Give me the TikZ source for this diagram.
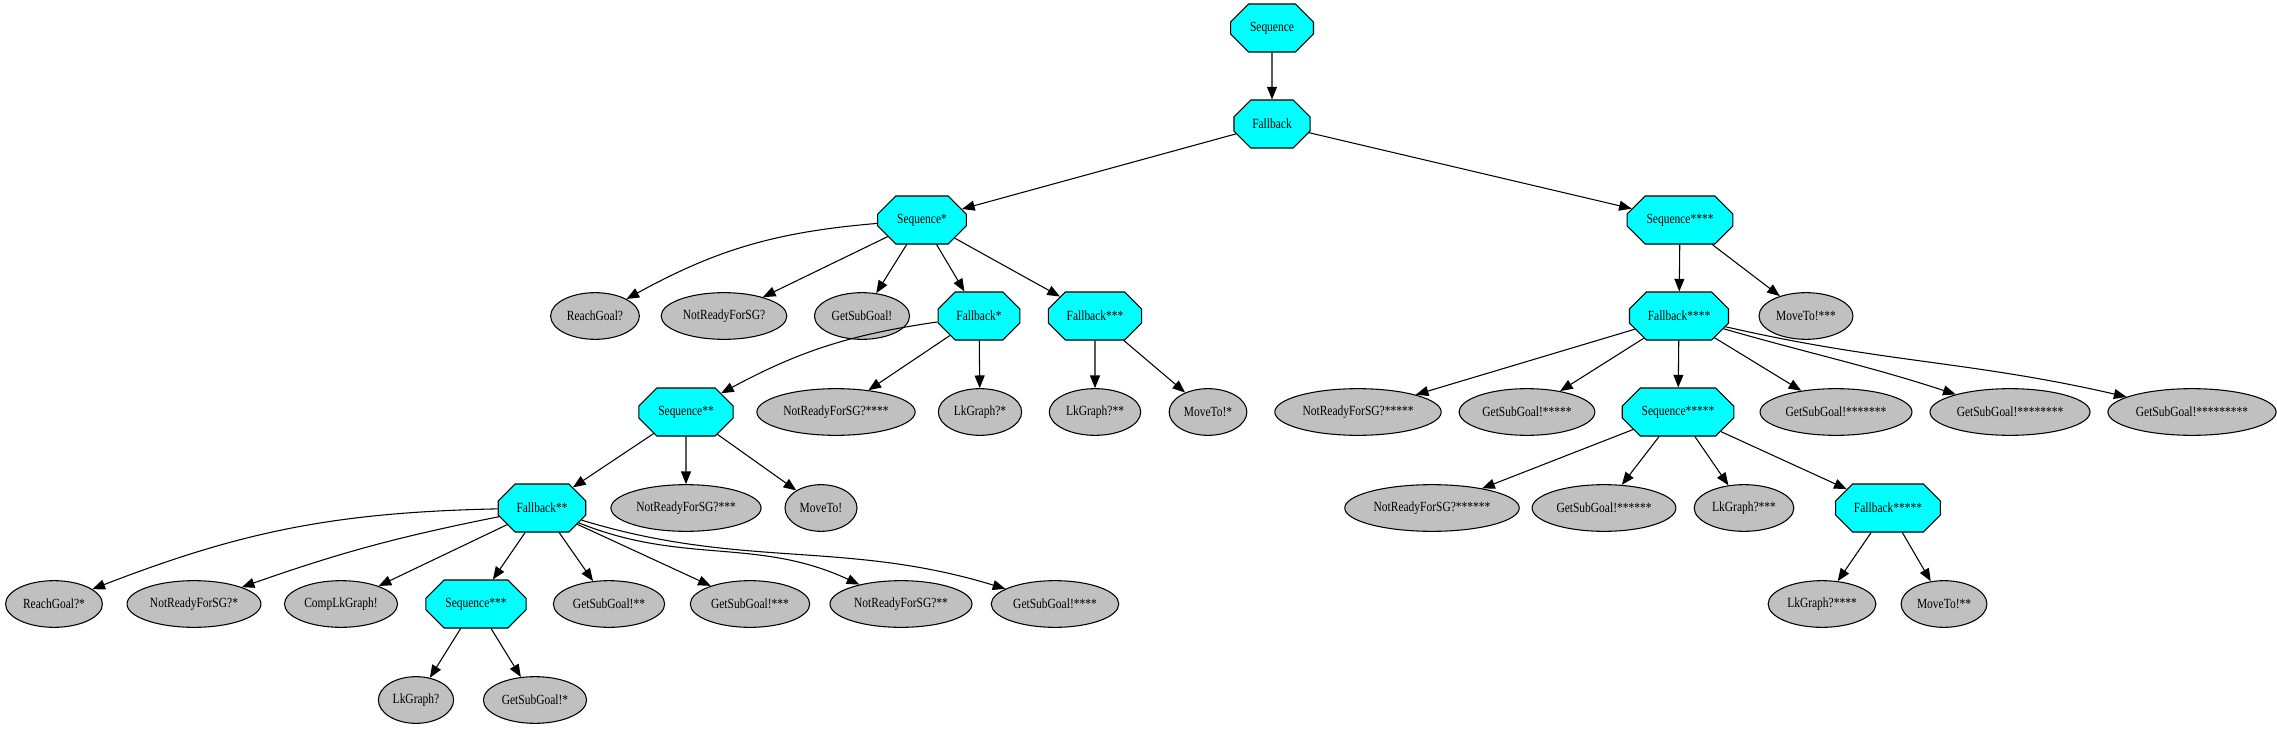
\documentclass[tikz,border=0pt]{standalone}
\usepackage{fontspec}
\setmainfont{Liberation Serif}[FakeStretch=0.82]
\usetikzlibrary{
  arrows.meta,
  shapes.misc,
  shapes.geometric
}
\definecolor{btCyan}{HTML}{00FFFF}
\definecolor{btGray}{HTML}{C0C0C0}
\tikzset{
  ctrlNode/.style={
    chamfered rectangle,
    chamfered rectangle xsep=14pt,
    chamfered rectangle ysep=7pt,
    draw=black,
    fill=btCyan,
    line width=0.8pt,
    minimum height=36pt,
    inner xsep=8pt,
    inner ysep=2pt,
    font=\fontsize{10.5}{12}\selectfont
  },
  leafNode/.style={
    ellipse,
    draw=black,
    fill=btGray,
    line width=0.8pt,
    minimum height=35pt,
    minimum width=54pt,
    inner xsep=2.5pt,
    inner ysep=2pt,
    font=\fontsize{10.5}{12}\selectfont
  },
  treeEdge/.style={-{Triangle[length=9.5pt, width=7.5pt]}, line width=0.8pt, black}
}

\begin{document}
\begin{tikzpicture}[x=0.75pt, y=0.75pt]
  \useasboundingbox (0,0) rectangle (2277,-731);

  % rank 0 and 1
  \node[ctrlNode] (seq0) at (1272,-28) {Sequence};
  \node[ctrlNode] (fb0) at (1272,-124) {Fallback};

  % rank 2
  \node[ctrlNode] (seq1) at (922,-220) {Sequence*};
  \node[ctrlNode] (seq4) at (1680,-220) {Sequence****};

  % rank 3
  \node[leafNode] (reachGoal0) at (595,-316) {ReachGoal?};
  \node[leafNode] (notReady0) at (724,-316) {NotReadyForSG?};
  \node[leafNode] (getSub0) at (862,-316) {GetSubGoal!};
  \node[ctrlNode] (fb1) at (979,-316) {Fallback*};
  \node[ctrlNode] (fb3) at (1095,-316) {Fallback***};
  \node[ctrlNode] (fb4) at (1679,-316) {Fallback****};
  \node[leafNode] (moveTo3) at (1806,-316) {MoveTo!***};

  % rank 4
  \node[ctrlNode] (seq2) at (686,-412) {Sequence**};
  \node[leafNode] (notReady4) at (836,-412) {NotReadyForSG?****};
  \node[leafNode] (lkGraph1) at (980,-412) {LkGraph?*};
  \node[leafNode] (lkGraph2) at (1095,-412) {LkGraph?**};
  \node[leafNode] (moveTo1) at (1208,-412) {MoveTo!*};
  \node[leafNode] (notReady5) at (1358,-412) {NotReadyForSG?*****};
  \node[leafNode] (getSub5) at (1527,-412) {GetSubGoal!*****};
  \node[ctrlNode] (seq5) at (1678,-412) {Sequence*****};
  \node[leafNode] (getSub7) at (1836,-412) {GetSubGoal!*******};
  \node[leafNode] (getSub8) at (2010,-412) {GetSubGoal!********};
  \node[leafNode] (getSub9) at (2192,-412) {GetSubGoal!*********};

  % rank 5
  \node[ctrlNode] (fb2) at (542,-508) {Fallback**};
  \node[leafNode] (notReady3) at (686,-508) {NotReadyForSG?***};
  \node[leafNode] (moveTo0) at (821,-508) {MoveTo!};
  \node[leafNode] (notReady6) at (1432,-508) {NotReadyForSG?******};
  \node[leafNode] (getSub6) at (1604,-508) {GetSubGoal!******};
  \node[leafNode] (lkGraph3) at (1744,-508) {LkGraph?***};
  \node[ctrlNode] (fb5) at (1888,-508) {Fallback*****};

  % rank 6
  \node[leafNode] (reachGoal1) at (54,-604) {ReachGoal?*};
  \node[leafNode] (notReady1) at (194,-604) {NotReadyForSG?*};
  \node[leafNode] (compLkGraph) at (341,-604) {CompLkGraph!};
  \node[ctrlNode] (seq3) at (476,-604) {Sequence***};
  \node[leafNode] (getSub2) at (609,-604) {GetSubGoal!**};
  \node[leafNode] (getSub3) at (750,-604) {GetSubGoal!***};
  \node[leafNode] (notReady2) at (901,-604) {NotReadyForSG?**};
  \node[leafNode] (getSub4) at (1055,-604) {GetSubGoal!****};
  \node[leafNode] (lkGraph4) at (1822,-604) {LkGraph?****};
  \node[leafNode] (moveTo2) at (1944,-604) {MoveTo!**};

  % rank 7
  \node[leafNode] (lkGraph0) at (416,-700) {LkGraph?};
  \node[leafNode] (getSub1) at (535,-700) {GetSubGoal!*};

  % edges
  \draw[treeEdge] (seq0) -- (fb0);
  \draw[treeEdge] (fb0) -- (seq1);
  \draw[treeEdge] (fb0) -- (seq4);

  \draw[treeEdge] (seq1) to[bend right=12] (reachGoal0);
  \draw[treeEdge] (seq1) -- (notReady0);
  \draw[treeEdge] (seq1) -- (getSub0);
  \draw[treeEdge] (seq1) -- (fb1);
  \draw[treeEdge] (seq1) -- (fb3);

  \draw[treeEdge] (fb1) to[bend right=10] (seq2);
  \draw[treeEdge] (fb1) -- (notReady4);
  \draw[treeEdge] (fb1) -- (lkGraph1);
  \draw[treeEdge] (fb3) -- (lkGraph2);
  \draw[treeEdge] (fb3) -- (moveTo1);

  \draw[treeEdge] (seq2) -- (fb2);
  \draw[treeEdge] (seq2) -- (notReady3);
  \draw[treeEdge] (seq2) -- (moveTo0);

  \draw[treeEdge] (fb2) to[bend right=10] (reachGoal1);
  \draw[treeEdge] (fb2) to[bend right=4] (notReady1);
  \draw[treeEdge] (fb2) -- (compLkGraph);
  \draw[treeEdge] (fb2) -- (seq3);
  \draw[treeEdge] (fb2) -- (getSub2);
  \draw[treeEdge] (fb2) -- (getSub3);
  \draw[treeEdge] (fb2) to[out=-22, in=155] (notReady2);
  \draw[treeEdge] (fb2) to[out=-17, in=163] (getSub4);

  \draw[treeEdge] (seq3) -- (lkGraph0);
  \draw[treeEdge] (seq3) -- (getSub1);

  \draw[treeEdge] (seq4) -- (fb4);
  \draw[treeEdge] (seq4) -- (moveTo3);

  \draw[treeEdge] (fb4) -- (notReady5);
  \draw[treeEdge] (fb4) -- (getSub5);
  \draw[treeEdge] (fb4) -- (seq5);
  \draw[treeEdge] (fb4) -- (getSub7);
  \draw[treeEdge] (fb4) to[out=-16, in=162] (getSub8);
  \draw[treeEdge] (fb4) to[out=-13, in=167] (getSub9);

  \draw[treeEdge] (seq5) -- (notReady6);
  \draw[treeEdge] (seq5) -- (getSub6);
  \draw[treeEdge] (seq5) -- (lkGraph3);
  \draw[treeEdge] (seq5) -- (fb5);

  \draw[treeEdge] (fb5) -- (lkGraph4);
  \draw[treeEdge] (fb5) -- (moveTo2);
\end{tikzpicture}
\end{document}
